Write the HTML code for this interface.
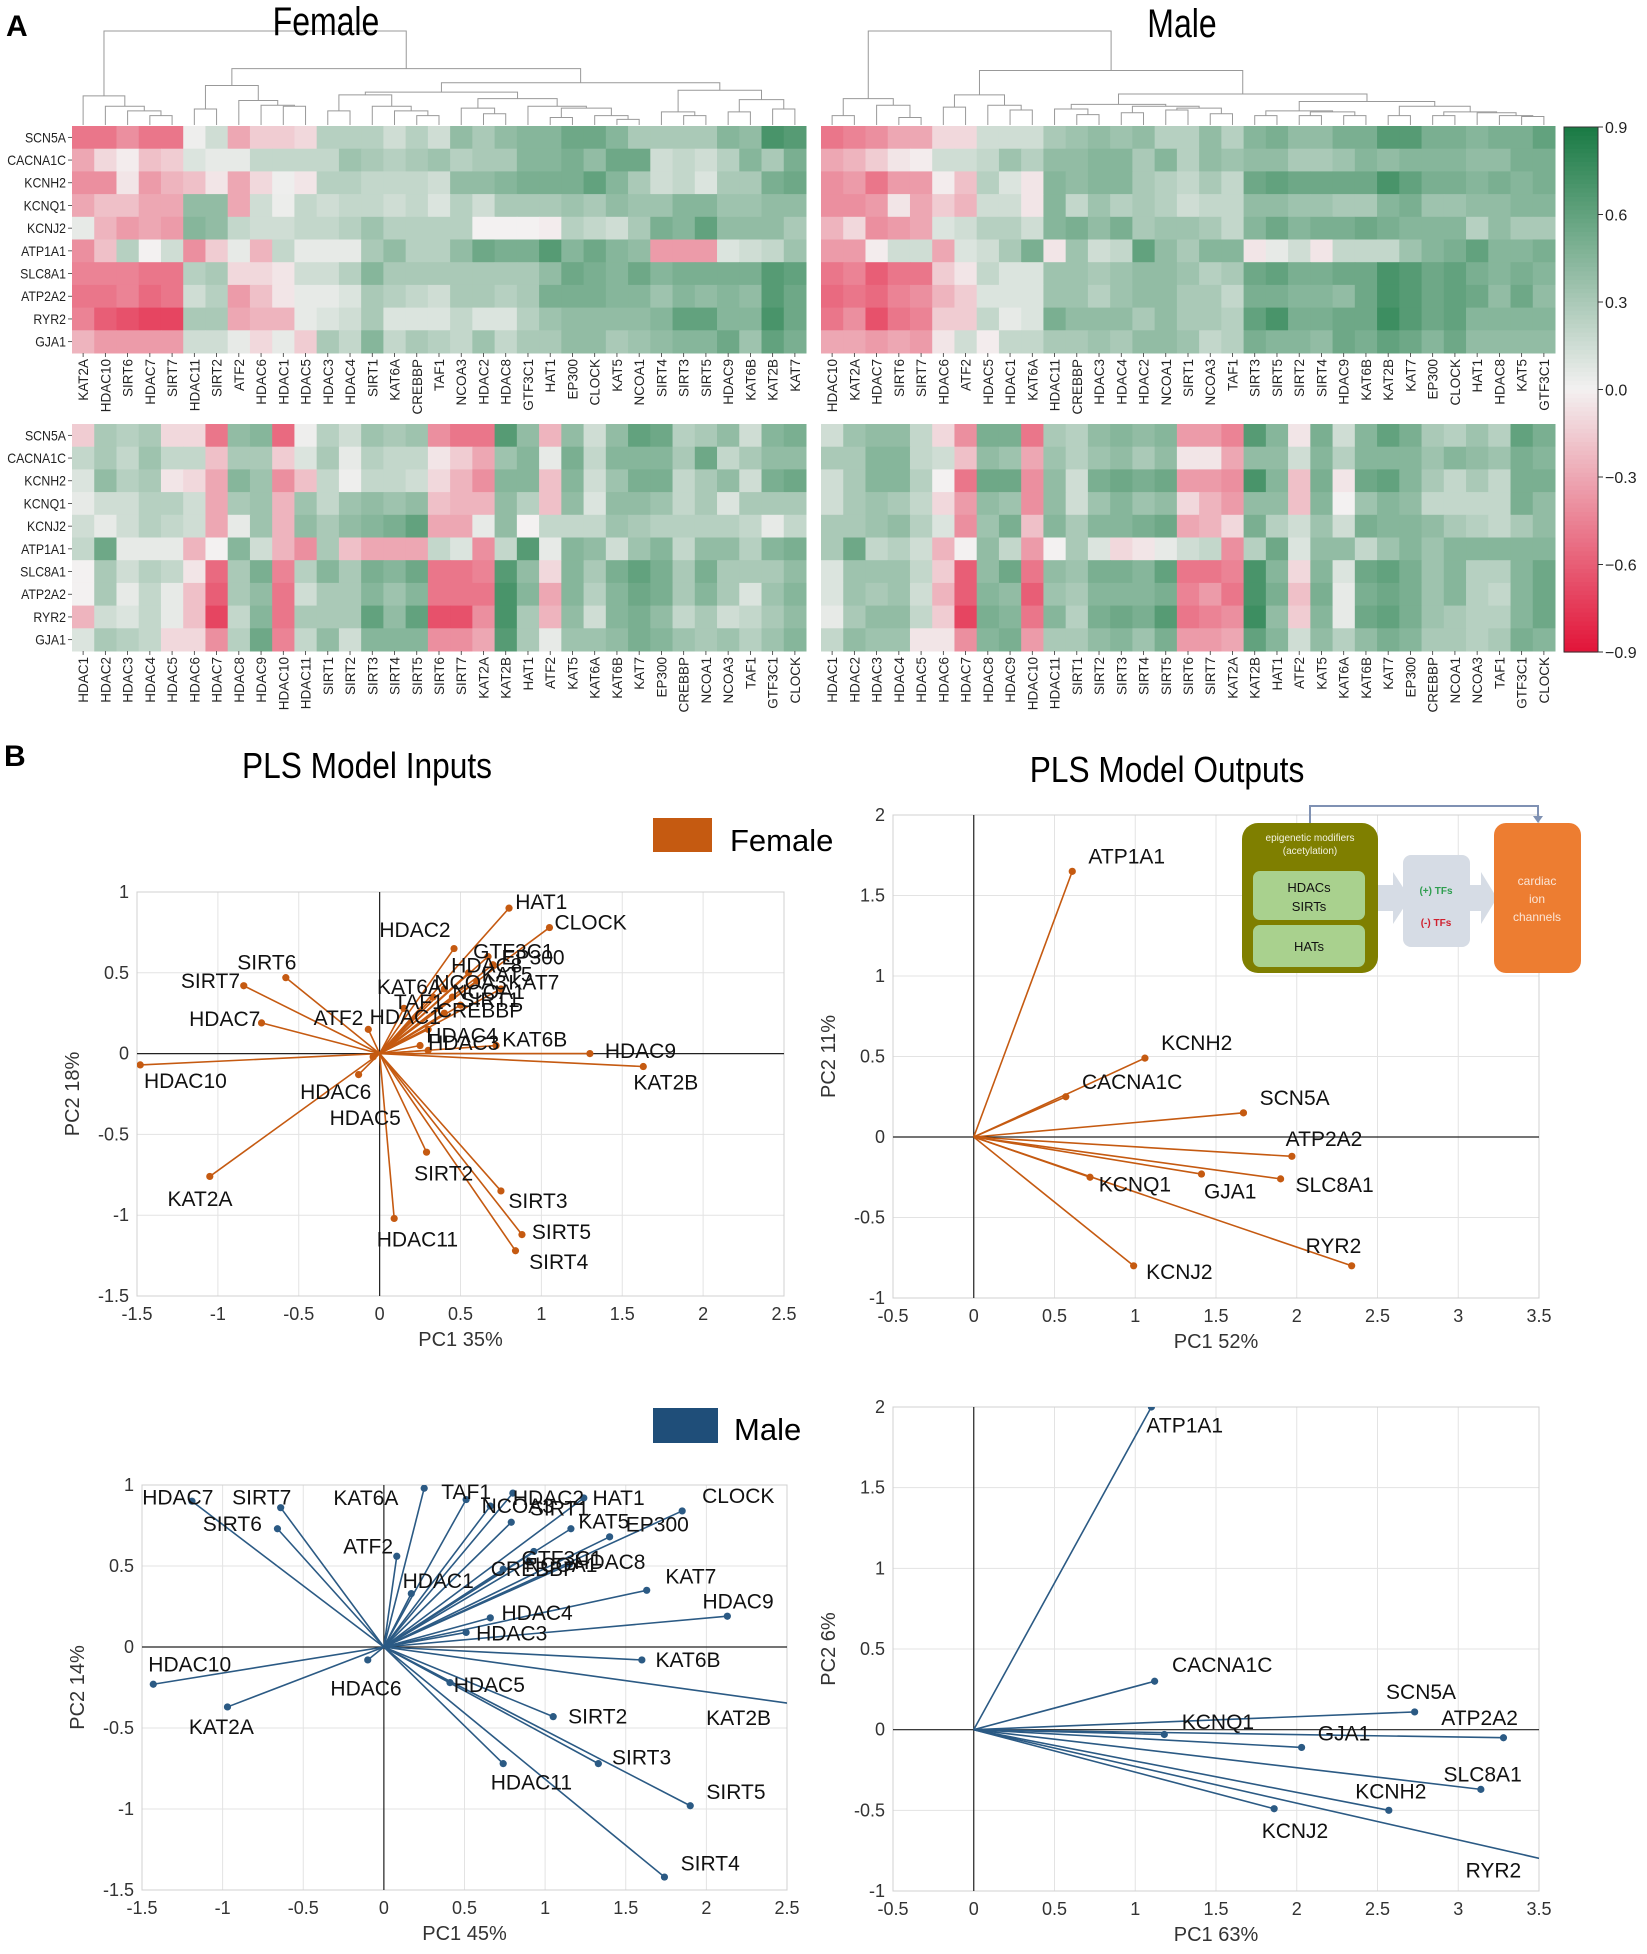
<!DOCTYPE html>
<html><head><meta charset="utf-8"><style>
html,body{margin:0;padding:0;background:#fff;}
svg{display:block;font-family:"Liberation Sans",sans-serif;}
</style></head><body>
<svg id="fig" width="1647" height="1954" viewBox="0 0 1647 1954" xmlns="http://www.w3.org/2000/svg"></svg>
<script>
// ---------- heatmap data ----------
const rowGenes = ["SCN5A","CACNA1C","KCNH2","KCNQ1","KCNJ2","ATP1A1","SLC8A1","ATP2A2","RYR2","GJA1"];
const femaleTopCols = ["KAT2A","HDAC10","SIRT6","HDAC7","SIRT7","HDAC11","SIRT2","ATF2","HDAC6","HDAC1","HDAC5","HDAC3","HDAC4","SIRT1","KAT6A","CREBBP","TAF1","NCOA3","HDAC2","HDAC8","GTF3C1","HAT1","EP300","CLOCK","KAT5","NCOA1","SIRT4","SIRT3","SIRT5","HDAC9","KAT6B","KAT2B","KAT7"];
const maleTopCols = ["HDAC10","KAT2A","HDAC7","SIRT6","SIRT7","HDAC6","ATF2","HDAC5","HDAC1","KAT6A","HDAC11","CREBBP","HDAC3","HDAC4","HDAC2","NCOA1","SIRT1","NCOA3","TAF1","SIRT3","SIRT5","SIRT2","SIRT4","HDAC9","KAT6B","KAT2B","KAT7","EP300","CLOCK","HAT1","HDAC8","KAT5","GTF3C1"];
const bottomCols = ["HDAC1","HDAC2","HDAC3","HDAC4","HDAC5","HDAC6","HDAC7","HDAC8","HDAC9","HDAC10","HDAC11","SIRT1","SIRT2","SIRT3","SIRT4","SIRT5","SIRT6","SIRT7","KAT2A","KAT2B","HAT1","ATF2","KAT5","KAT6A","KAT6B","KAT7","EP300","CREBBP","NCOA1","NCOA3","TAF1","GTF3C1","CLOCK"];
const femaleTop = [
[-0.5,-0.5,-0.4,-0.5,-0.5,0.02,0.15,-0.3,-0.15,-0.15,-0.1,0.25,0.25,0.25,0.15,0.25,0.15,0.4,0.3,0.4,0.45,0.45,0.55,0.55,0.45,0.3,0.3,0.3,0.3,0.45,0.4,0.7,0.65],
[-0.3,-0.1,-0.02,-0.2,-0.15,0.1,0.05,0.05,0.2,0.2,0.2,0.2,0.35,0.3,0.25,0.3,0.35,0.25,0.3,0.3,0.45,0.45,0.5,0.4,0.55,0.55,0.15,0.2,0.15,0.25,0.45,0.3,0.5],
[-0.4,-0.4,-0.05,-0.35,-0.25,-0.2,-0.05,-0.3,-0.1,0.02,-0.05,0.25,0.25,0.2,0.2,0.2,0.15,0.4,0.4,0.45,0.5,0.5,0.5,0.6,0.45,0.3,0.15,0.2,0.1,0.3,0.3,0.5,0.55],
[-0.3,-0.2,-0.2,-0.3,-0.3,0.4,0.4,-0.3,0.15,0.03,0.2,0.15,0.2,0.2,0.15,0.2,0.1,0.25,0.15,0.3,0.3,0.3,0.35,0.3,0.4,0.35,0.35,0.45,0.45,0.35,0.35,0.4,0.4],
[0.05,-0.25,-0.35,-0.3,-0.35,0.45,0.4,0.2,0.15,0.15,0.2,0.2,0.25,0.35,0.25,0.25,0.25,0.25,0.0,0.0,0.0,-0.02,0.25,0.2,0.15,0.3,0.5,0.45,0.6,0.4,0.4,0.4,0.3],
[-0.4,-0.2,0.25,0.0,0.15,-0.4,-0.15,0.05,-0.25,0.2,0.05,0.05,0.05,0.3,0.4,0.25,0.25,0.4,0.55,0.5,0.5,0.65,0.45,0.55,0.45,0.4,-0.35,-0.35,-0.35,0.1,0.15,0.2,0.35],
[-0.45,-0.45,-0.45,-0.5,-0.5,0.25,0.3,-0.1,-0.1,-0.05,0.15,0.15,0.25,0.45,0.3,0.3,0.3,0.3,0.3,0.3,0.3,0.4,0.55,0.5,0.45,0.55,0.45,0.5,0.5,0.5,0.5,0.65,0.6],
[-0.5,-0.5,-0.45,-0.55,-0.5,0.15,0.25,-0.35,-0.2,-0.05,0.05,0.05,0.1,0.3,0.25,0.2,0.15,0.3,0.3,0.25,0.3,0.5,0.5,0.5,0.45,0.45,0.35,0.45,0.4,0.45,0.4,0.65,0.55],
[-0.45,-0.6,-0.65,-0.7,-0.7,0.3,0.3,-0.3,-0.25,-0.25,0.05,0.1,0.15,0.3,0.1,0.1,0.1,0.2,0.1,0.1,0.25,0.35,0.4,0.4,0.4,0.4,0.45,0.6,0.6,0.45,0.45,0.7,0.55],
[-0.25,-0.35,-0.35,-0.35,-0.35,0.15,0.15,0.05,-0.1,0.05,-0.15,0.3,0.2,0.45,0.2,0.3,0.25,0.2,0.35,0.2,0.3,0.3,0.4,0.4,0.3,0.35,0.4,0.45,0.45,0.55,0.35,0.6,0.5]];
const maleTop = [
[-0.5,-0.45,-0.4,-0.3,-0.3,-0.1,-0.1,0.15,0.15,0.15,0.3,0.35,0.4,0.35,0.4,0.25,0.25,0.4,0.25,0.45,0.5,0.4,0.4,0.5,0.5,0.65,0.65,0.5,0.5,0.45,0.5,0.5,0.6],
[-0.3,-0.25,-0.15,-0.05,-0.02,0.15,0.15,0.2,0.35,0.25,0.4,0.4,0.45,0.45,0.3,0.45,0.25,0.4,0.35,0.4,0.4,0.3,0.3,0.35,0.45,0.4,0.45,0.45,0.45,0.4,0.4,0.5,0.5],
[-0.4,-0.35,-0.5,-0.35,-0.35,-0.02,-0.2,0.25,0.1,-0.05,0.45,0.4,0.45,0.45,0.3,0.25,0.2,0.3,0.2,0.55,0.6,0.55,0.55,0.55,0.55,0.7,0.6,0.5,0.5,0.45,0.5,0.45,0.5],
[-0.4,-0.4,-0.35,-0.05,-0.3,-0.15,-0.25,0.15,0.15,-0.05,0.45,0.2,0.35,0.25,0.3,0.25,0.15,0.2,0.2,0.4,0.4,0.35,0.35,0.3,0.3,0.45,0.5,0.35,0.35,0.4,0.4,0.45,0.45],
[-0.25,-0.1,-0.4,-0.35,-0.3,0.1,0.15,0.25,0.25,0.15,0.45,0.5,0.4,0.5,0.3,0.35,0.35,0.3,0.2,0.45,0.55,0.45,0.5,0.5,0.55,0.5,0.45,0.45,0.45,0.25,0.4,0.3,0.3],
[-0.35,-0.35,-0.02,0.15,0.15,-0.3,0.1,0.15,0.3,0.5,-0.05,0.35,0.15,0.2,0.6,0.4,0.3,0.45,0.45,-0.05,0.05,0.15,-0.05,0.2,0.2,0.2,0.35,0.45,0.5,0.6,0.45,0.45,0.5],
[-0.5,-0.45,-0.6,-0.5,-0.5,-0.15,-0.05,0.2,0.1,0.1,0.35,0.35,0.3,0.35,0.4,0.4,0.35,0.25,0.3,0.55,0.6,0.5,0.5,0.55,0.55,0.7,0.65,0.55,0.6,0.5,0.45,0.5,0.45],
[-0.55,-0.5,-0.55,-0.45,-0.4,-0.25,-0.15,0.1,0.1,0.1,0.35,0.35,0.25,0.35,0.4,0.4,0.3,0.3,0.2,0.5,0.5,0.45,0.45,0.4,0.55,0.7,0.65,0.55,0.6,0.55,0.4,0.55,0.4],
[-0.5,-0.4,-0.65,-0.5,-0.45,-0.15,-0.15,0.2,0.05,0.1,0.5,0.4,0.4,0.4,0.3,0.4,0.3,0.3,0.25,0.6,0.7,0.5,0.5,0.55,0.55,0.75,0.65,0.55,0.6,0.45,0.45,0.45,0.45],
[-0.3,-0.3,-0.35,-0.3,-0.35,-0.05,0.15,-0.02,0.2,0.2,0.3,0.3,0.35,0.3,0.4,0.4,0.35,0.2,0.25,0.5,0.45,0.45,0.4,0.55,0.5,0.6,0.55,0.45,0.55,0.4,0.4,0.4,0.4]];
const femaleBottom = [
[-0.15,0.3,0.25,0.3,-0.1,-0.1,-0.5,0.4,0.45,-0.55,0.02,0.25,0.15,0.35,0.3,0.35,-0.4,-0.5,-0.5,0.65,0.4,-0.25,0.4,0.15,0.4,0.6,0.55,0.25,0.3,0.4,0.15,0.45,0.5],
[0.2,0.3,0.2,0.35,0.2,0.2,-0.2,0.3,0.3,-0.15,0.1,0.3,0.05,0.25,0.2,0.2,-0.05,-0.15,-0.3,0.35,0.45,0.05,0.5,0.2,0.45,0.45,0.45,0.3,0.55,0.2,0.3,0.4,0.4],
[0.1,0.4,0.25,0.3,-0.05,-0.1,-0.3,0.45,0.35,-0.4,-0.2,0.2,0.02,0.2,0.2,0.15,-0.1,-0.25,-0.4,0.45,0.45,-0.2,0.45,0.15,0.35,0.5,0.5,0.2,0.3,0.4,0.15,0.5,0.55],
[0.05,0.15,0.15,0.25,0.25,0.15,-0.3,0.3,0.35,-0.25,0.35,0.2,0.35,0.4,0.35,0.4,-0.2,-0.25,-0.25,0.4,0.25,-0.2,0.4,0.1,0.4,0.4,0.35,0.2,0.3,0.1,0.3,0.3,0.3],
[0.15,0.05,0.15,0.25,0.2,0.15,-0.3,0.05,0.35,-0.25,0.4,0.3,0.4,0.45,0.5,0.6,-0.3,-0.3,0.05,0.4,0.0,0.2,0.2,0.2,0.35,0.3,0.25,0.25,0.25,0.25,0.2,0.05,0.2],
[0.2,0.55,0.05,0.05,0.05,-0.25,0.0,0.45,0.15,-0.25,-0.4,0.3,-0.2,-0.3,-0.3,-0.3,0.2,0.1,-0.4,0.2,0.65,0.05,0.45,0.4,0.15,0.35,0.45,0.2,0.4,0.4,0.25,0.45,0.5],
[0.0,0.3,0.15,0.25,0.2,-0.05,-0.55,0.3,0.5,-0.45,0.25,0.45,0.3,0.5,0.45,0.55,-0.5,-0.5,-0.45,0.65,0.4,-0.1,0.45,0.3,0.5,0.6,0.5,0.3,0.5,0.3,0.3,0.3,0.4],
[0.0,0.3,0.05,0.2,0.05,-0.2,-0.6,0.3,0.4,-0.5,0.15,0.3,0.3,0.45,0.35,0.45,-0.5,-0.5,-0.5,0.7,0.45,-0.3,0.45,0.25,0.45,0.55,0.5,0.3,0.45,0.3,0.1,0.35,0.45],
[-0.25,0.15,0.1,0.2,0.05,-0.2,-0.7,0.2,0.45,-0.5,0.3,0.3,0.3,0.6,0.4,0.6,-0.65,-0.65,-0.4,0.7,0.3,-0.25,0.4,0.15,0.45,0.5,0.4,0.2,0.3,0.15,0.2,0.3,0.4],
[0.1,0.3,0.25,0.2,-0.1,-0.1,-0.4,0.25,0.55,-0.45,0.2,0.4,0.15,0.45,0.45,0.45,-0.4,-0.4,-0.3,0.65,0.3,0.05,0.35,0.35,0.4,0.5,0.45,0.35,0.3,0.35,0.25,0.35,0.45]];
const maleBottom = [
[0.15,0.35,0.4,0.4,0.2,-0.1,-0.4,0.5,0.5,-0.5,0.3,0.25,0.4,0.45,0.4,0.45,-0.35,-0.35,-0.45,0.65,0.45,-0.05,0.5,0.15,0.45,0.6,0.5,0.3,0.25,0.35,0.25,0.6,0.5],
[0.3,0.3,0.45,0.45,0.2,0.15,-0.2,0.4,0.35,-0.3,0.35,0.25,0.35,0.4,0.3,0.4,-0.05,-0.05,-0.3,0.4,0.4,0.15,0.45,0.25,0.45,0.45,0.45,0.35,0.45,0.4,0.35,0.5,0.45],
[0.15,0.3,0.45,0.45,0.25,0.0,-0.5,0.55,0.55,-0.4,0.4,0.15,0.5,0.55,0.5,0.55,-0.35,-0.35,-0.4,0.7,0.45,-0.2,0.5,-0.05,0.55,0.6,0.45,0.3,0.2,0.3,0.2,0.5,0.5],
[0.15,0.3,0.35,0.3,0.2,-0.1,-0.35,0.4,0.35,-0.4,0.4,0.15,0.35,0.45,0.35,0.4,-0.1,-0.25,-0.35,0.4,0.4,-0.2,0.45,0.0,0.35,0.45,0.4,0.2,0.2,0.2,0.2,0.5,0.4],
[0.3,0.3,0.35,0.4,0.25,0.1,-0.4,0.35,0.5,-0.2,0.45,0.3,0.45,0.45,0.5,0.55,-0.3,-0.25,-0.1,0.5,0.25,0.15,0.35,0.15,0.5,0.45,0.45,0.4,0.3,0.25,0.2,0.3,0.4],
[0.3,0.55,0.2,0.25,0.15,-0.25,0.0,0.4,0.2,-0.35,0.0,0.3,0.1,-0.1,-0.05,0.05,0.15,0.2,-0.4,0.25,0.55,0.1,0.4,0.4,0.2,0.35,0.45,0.35,0.45,0.45,0.45,0.45,0.45],
[0.1,0.35,0.35,0.35,0.2,-0.15,-0.6,0.4,0.55,-0.5,0.4,0.35,0.5,0.5,0.45,0.6,-0.5,-0.5,-0.45,0.7,0.45,-0.1,0.45,0.1,0.55,0.6,0.5,0.35,0.45,0.25,0.25,0.45,0.55],
[0.1,0.35,0.3,0.35,0.15,-0.25,-0.6,0.45,0.4,-0.6,0.35,0.3,0.45,0.45,0.45,0.5,-0.45,-0.35,-0.5,0.7,0.5,-0.2,0.5,0.05,0.5,0.55,0.5,0.35,0.45,0.25,0.2,0.45,0.55],
[0.05,0.3,0.4,0.4,0.2,-0.15,-0.7,0.5,0.45,-0.5,0.45,0.25,0.5,0.55,0.5,0.65,-0.5,-0.45,-0.4,0.75,0.4,-0.15,0.45,0.05,0.55,0.6,0.5,0.35,0.3,0.25,0.25,0.45,0.55],
[0.2,0.4,0.35,0.35,-0.05,-0.05,-0.4,0.45,0.5,-0.35,0.3,0.3,0.4,0.45,0.35,0.5,-0.35,-0.35,-0.3,0.6,0.45,0.15,0.4,0.25,0.4,0.5,0.45,0.3,0.3,0.25,0.3,0.5,0.45]];
const colorbarTicks = [0.9,0.6,0.3,0.0,-0.3,-0.6,-0.9];

// dendrogram structures [height, left, right]
const femaleTree = [1,[0.31,0,[0.2,1,[0.15,2,[0.1,3,4]]]],[0.6,[0.42,[0.17,5,6],[0.26,7,[0.21,8,[0.2,9,10]]]],[0.45,[0.35,[0.32,[0.15,11,12],[0.2,13,[0.15,14,[0.1,15,16]]]],[0.28,[0.18,17,[0.12,18,19]],[0.2,20,[0.18,[0.08,21,22],[0.1,23,[0.06,24,25]]]]]],[0.37,[0.14,26,[0.1,27,28]],[0.27,[0.14,29,30],[0.17,31,32]]]]]];
const maleTree = [1,[0.28,[0.1,0,1],[0.21,2,[0.08,3,4]]],[0.58,[0.32,[0.19,5,6],[0.21,7,[0.16,8,9]]],[0.33,[0.22,[0.17,10,[0.11,11,12]],[0.2,[0.13,13,14],[0.18,[0.16,15,16],[0.12,17,18]]]],[0.25,[0.15,[0.1,19,20],[0.14,[0.1,21,22],[0.1,23,24]]],[0.2,[0.1,25,26],[0.14,[0.1,27,28],[0.13,29,[0.1,30,[0.09,31,32]]]]]]]]];

// ---------- PLS biplot data ----------
const femInNames = ["HAT1","CLOCK","HDAC2","GTF3C1","HDAC8","EP300","KAT5","KAT7","NCOA1","KAT6A","SIRT1","CREBBP","NCOA3","TAF1","HDAC1","HDAC4","HDAC3","KAT6B","HDAC9","KAT2B","HDAC10","HDAC7","SIRT7","SIRT6","ATF2","HDAC6","HDAC5","KAT2A","SIRT2","HDAC11","SIRT3","SIRT5","SIRT4"];
const femInX = [0.8,1.05,0.46,0.67,0.55,0.7,0.6,0.75,0.45,0.33,0.5,0.4,0.4,0.15,0.3,0.25,0.3,0.72,1.3,1.63,-1.48,-0.73,-0.84,-0.58,-0.07,-0.13,-0.04,-1.05,0.29,0.09,0.75,0.88,0.84];
const femInY = [0.9,0.78,0.65,0.6,0.5,0.55,0.45,0.4,0.35,0.35,0.3,0.25,0.4,0.28,0.15,0.05,0.02,0.05,0.0,-0.08,-0.07,0.19,0.42,0.47,0.15,-0.13,-0.02,-0.76,-0.61,-1.02,-0.85,-1.12,-1.22];
const femOutNames = ["ATP1A1","KCNH2","CACNA1C","SCN5A","ATP2A2","SLC8A1","GJA1","KCNQ1","RYR2","KCNJ2"];
const femOutX = [0.61,1.06,0.57,1.67,1.97,1.9,1.41,0.72,2.34,0.99];
const femOutY = [1.65,0.49,0.25,0.15,-0.12,-0.26,-0.23,-0.25,-0.8,-0.8];
const maleInNames = ["HDAC7","SIRT7","SIRT6","KAT6A","TAF1","HDAC2","HAT1","CLOCK","SIRT1","NCOA3","EP300","KAT5","NCOA1","GTF3C1","HDAC8","CREBBP","KAT7","HDAC9","ATF2","HDAC1","HDAC4","HDAC3","KAT6B","KAT2B","HDAC10","KAT2A","HDAC6","HDAC5","SIRT2","SIRT3","HDAC11","SIRT5","SIRT4"];
const maleInX = [-1.19,-0.64,-0.66,0.25,0.51,0.8,1.24,1.85,0.79,0.66,1.4,1.16,0.93,0.9,1.15,0.74,1.63,2.13,0.08,0.17,0.66,0.51,1.6,2.6,-1.43,-0.97,-0.1,0.41,1.05,1.33,0.74,1.9,1.74];
const maleInY = [0.9,0.86,0.73,0.98,0.91,0.95,0.92,0.84,0.77,0.87,0.68,0.73,0.59,0.53,0.51,0.48,0.35,0.19,0.56,0.33,0.18,0.09,-0.08,-0.36,-0.23,-0.37,-0.08,-0.22,-0.43,-0.72,-0.72,-0.98,-1.42];
const maleOutNames = ["ATP1A1","CACNA1C","SCN5A","ATP2A2","KCNQ1","GJA1","SLC8A1","KCNH2","KCNJ2","RYR2"];
const maleOutX = [1.1,1.12,2.73,3.28,1.18,2.03,3.14,2.57,1.86,3.6];
const maleOutY = [2.0,0.3,0.11,-0.05,-0.03,-0.11,-0.37,-0.5,-0.49,-0.82];
const inXTicks = ["-1.5","-1","-0.5","0","0.5","1","1.5","2","2.5"];
const inYTicks = ["-1.5","-1","-0.5","0","0.5","1"];
const outXTicks = ["-0.5","0","0.5","1","1.5","2","2.5","3","3.5"];
const outYTicks = ["-1","-0.5","0","0.5","1","1.5","2"];

// ---------- helpers ----------
const NS="http://www.w3.org/2000/svg";
const svg=document.getElementById('fig');
function mk(tag,attrs,parent){const e=document.createElementNS(NS,tag);for(const k in attrs)e.setAttribute(k,attrs[k]);(parent||svg).appendChild(e);return e;}
function txt(s,attrs,parent){const e=mk('text',attrs,parent);e.textContent=s;return e;}
function cmap(v){
  const t=Math.max(-1,Math.min(1,v/0.9));
  const w=[243,241,241],r=[226,20,56],g=[25,122,68];
  const c=t<0?r:g,a=Math.abs(t);
  return 'rgb('+w.map((x,i)=>Math.round(x+(c[i]-x)*a)).join(',')+')';
}
const K=1.244;

// ---------- heatmaps ----------
const HW=734,HH=227;
function drawHeat(data,cols,x0,y0,rowLabels,nm){
  const g=mk('g',{});
  
  
  const cw=HW/cols.length,ch=HH/data.length;
  data.forEach((row,i)=>row.forEach((v,j)=>{
    const r=mk('rect',{x:x0+j*cw,y:y0+i*ch,width:cw+0.5,height:ch+0.5,fill:cmap(v)},g);
    
    
  }));
  cols.forEach((c,j)=>{
    const cx=x0+(j+0.5)*cw,ty=y0+HH+6;
    mk('line',{x1:cx,y1:y0+HH,x2:cx,y2:y0+HH+4,stroke:'#333','stroke-width':0.8},g);
    const t=txt(c,{x:cx+5,y:ty,'font-size':13.5,'text-anchor':'end',fill:'#222',transform:'rotate(-90 '+(cx+5)+' '+ty+')'},g);
    
    
  });
  if(rowLabels){
    rowGenes.forEach((r,i)=>{
      const cy=y0+(i+0.5)*ch;
      mk('line',{x1:x0-4,y1:cy,x2:x0,y2:cy,stroke:'#333','stroke-width':0.8},g);
      const t=txt(r,{x:x0-6,y:cy+5,'font-size':14,'text-anchor':'end',fill:'#222',transform:'translate('+(x0-6)+' 0) scale(0.88 1) translate('+(-(x0-6))+' 0)'},g);
      
      
    });
  }
}
drawHeat(femaleTop,femaleTopCols,72,126,true,'female-top-heatmap');
drawHeat(maleTop,maleTopCols,821,126,false,'male-top-heatmap');
drawHeat(femaleBottom,bottomCols,72,424,true,'female-bottom-heatmap');
drawHeat(maleBottom,bottomCols,821,424,false,'male-bottom-heatmap');

// dendrograms
function drawTree(tree,x0,nm){
  const g=mk('g',{fill:'none',stroke:'#999','stroke-width':1});
  
  
  const cw=HW/33,yb=125,hs=94;
  function rec(n){
    if(typeof n==='number')return {x:x0+(n+0.5)*cw,y:yb};
    const a=rec(n[1]),b=rec(n[2]),y=yb-n[0]*hs;
    mk('path',{d:'M'+a.x+' '+a.y+'V'+y+'H'+b.x+'V'+b.y},g);
    return {x:(a.x+b.x)/2,y:y};
  }
  rec(tree);
}
drawTree(femaleTree,72,'female-dendrogram');
drawTree(maleTree,821,'male-dendrogram');

// colorbar
(function(){
  const g=mk('g',{});
  
  
  const x=1564,w=34,y0=127,y1=652,n=120;
  for(let i=0;i<n;i++){
    const v=0.9-1.8*(i+0.5)/n;
    mk('rect',{x:x,y:y0+(y1-y0)*i/n,width:w,height:(y1-y0)/n+0.6,fill:cmap(v)},g);
  }
  mk('rect',{x:x,y:y0,width:w,height:y1-y0,fill:'none',stroke:'#333','stroke-width':1},g);
  colorbarTicks.forEach(v=>{
    const y=y0+(0.9-v)/1.8*(y1-y0);
    mk('line',{x1:x+w,y1:y,x2:x+w+5,y2:y,stroke:'#333'},g);
    const t=txt(v.toFixed(1).replace('-','\u2212'),{x:x+w+7,y:y+6,'font-size':16,fill:'#222'},g);
    
    
  });
})();

// titles
let e;
e=txt('A',{x:6,y:36,'font-size':30,'font-weight':'bold'});

e=txt('Female',{x:326,y:35,'font-size':40,'text-anchor':'middle',transform:'translate(326 0) scale(0.8 1) translate(-326 0)'});

e=txt('Male',{x:1182,y:37,'font-size':40,'text-anchor':'middle',transform:'translate(1182 0) scale(0.8 1) translate(-1182 0)'});

e=txt('B',{x:4,y:766,'font-size':30,'font-weight':'bold'});

e=txt('PLS Model Inputs',{x:367,y:778,'font-size':36,'text-anchor':'middle',transform:'translate(367 0) scale(0.88 1) translate(-367 0)'});

e=txt('PLS Model Outputs',{x:1167,y:782,'font-size':36,'text-anchor':'middle',transform:'translate(1167 0) scale(0.88 1) translate(-1167 0)'});

e=mk('rect',{x:653,y:818,width:59,height:34,fill:'#c55a11'});

e=txt('Female',{x:730,y:851,'font-size':31});

e=mk('rect',{x:653,y:1408,width:65,height:35,fill:'#1f4e79'});

e=txt('Male',{x:734,y:1440,'font-size':31});


// biplots
function biplot(c){
  const g=mk('g',{});
  
  
  const sx=v=>c.px0+(v-c.xmin)/(c.xmax-c.xmin)*(c.px1-c.px0);
  const sy=v=>c.py0+(c.ymax-v)/(c.ymax-c.ymin)*(c.py1-c.py0);
  const cid='clip-'+c.name;
  const cp=mk('clipPath',{id:cid},g);
  mk('rect',{x:c.px0,y:c.py0,width:c.px1-c.px0,height:c.py1-c.py0},cp);
  c.xt.forEach(s=>{
    const x=sx(parseFloat(s));
    mk('line',{x1:x,y1:c.py0,x2:x,y2:c.py1,stroke:'#e3e3e3'},g);
    const t=txt(s,{x:x,y:c.py1+24,'font-size':18,'text-anchor':'middle',fill:'#333'},g);
    
  });
  c.yt.forEach(s=>{
    const y=sy(parseFloat(s));
    mk('line',{x1:c.px0,y1:y,x2:c.px1,y2:y,stroke:'#e3e3e3'},g);
    const t=txt(s,{x:c.px0-8,y:y+6,'font-size':18,'text-anchor':'end',fill:'#333'},g);
    
  });
  mk('rect',{x:c.px0,y:c.py0,width:c.px1-c.px0,height:c.py1-c.py0,fill:'none',stroke:'#d0d0d0'},g);
  mk('line',{x1:sx(0),y1:c.py0,x2:sx(0),y2:c.py1,stroke:'#222','stroke-width':1.2},g);
  mk('line',{x1:c.px0,y1:sy(0),x2:c.px1,y2:sy(0),stroke:'#222','stroke-width':1.2},g);
  const lg=mk('g',{'clip-path':'url(#'+cid+')'},g);
  c.names.forEach((n,i)=>{
    const x=sx(c.xs[i]),y=sy(c.ys[i]);
    const l=mk('line',{x1:sx(0),y1:sy(0),x2:x,y2:y,stroke:c.color,'stroke-width':1.6},lg);
    
    const d=mk('circle',{cx:x,cy:y,r:3.6,fill:c.color},lg);
    
    const o=(c.off[n]||[7,-8]);
    const t=txt(n,{x:x+o[0]*K,y:y+o[1]*K+7,'font-size':21,'text-anchor':o[2]?'end':'start',fill:'#111'},g);
    
  });
  let t=txt(c.xl,{x:(c.px0+c.px1)/2,y:c.py1+50,'font-size':20,'text-anchor':'middle',fill:'#333'},g);
  
  const ax=c.px0-58,ay=(c.py0+c.py1)/2;
  t=txt(c.yl,{x:ax,y:ay,'font-size':20,'text-anchor':'middle',fill:'#333',transform:'rotate(-90 '+ax+' '+ay+')'},g);
  
}
biplot({name:'female-inputs-biplot',px0:137,px1:784,py0:892,py1:1296,xmin:-1.5,xmax:2.5,ymin:-1.5,ymax:1,xt:inXTicks,yt:inYTicks,
  names:femInNames,xs:femInX,ys:femInY,color:'#c55a11',xl:'PC1 35%',yl:'PC2 18%',
  off:{HAT1:[5,-5],CLOCK:[4,-4],HDAC2:[-60,-15],SIRT7:[-3,-4,1],SIRT6:[-39,-12],HDAC7:[-1,-3,1],HDAC10:[3,13],KAT2A:[-34,18],HDAC6:[-47,14],HDAC5:[-35,49],SIRT2:[-10,17],HDAC11:[-14,17],SIRT3:[6,8],SIRT5:[8,-2],SIRT4:[11,9],HDAC9:[12,-2],KAT2B:[-8,13],KAT6B:[5,-5],ATF2:[-44,-9],TAF1:[-8,-5],KAT6A:[-45,-8],HDAC4:[5,-8],HDAC3:[0,-6],HDAC1:[-47,-10],GTF3C1:[-12,-4],HDAC8:[-14,-6],EP300:[7,-6],KAT5:[4,-5],KAT7:[6,-5],NCOA3:[-8,-5],NCOA1:[0,-4],SIRT1:[0,-4],CREBBP:[-6,-2]}});
biplot({name:'female-outputs-biplot',px0:893,px1:1539,py0:815,py1:1298,xmin:-0.5,xmax:3.5,ymin:-1,ymax:2,xt:outXTicks,yt:outYTicks,
  names:femOutNames,xs:femOutX,ys:femOutY,color:'#c55a11',xl:'PC1 52%',yl:'PC2 11%',
  off:{ATP1A1:[13,-12],KCNH2:[13,-12],CACNA1C:[13,-12],SCN5A:[13,-12],ATP2A2:[-5,-14],SLC8A1:[12,5],GJA1:[2,14],KCNQ1:[7,6],RYR2:[-37,-16],KCNJ2:[10,5]}});
biplot({name:'male-inputs-biplot',px0:142,px1:787,py0:1485,py1:1890,xmin:-1.5,xmax:2.5,ymin:-1.5,ymax:1,xt:inXTicks,yt:inYTicks,
  names:maleInNames,xs:maleInX,ys:maleInY,color:'#2b5a84',xl:'PC1 45%',yl:'PC2 14%',
  off:{HDAC7:[-40,-3],SIRT7:[-39,-8],SIRT6:[-60,-4],KAT6A:[-73,8],TAF1:[-20,-6],HDAC2:[0,4],HAT1:[7,0],CLOCK:[16,-12],SIRT1:[15,-11],NCOA3:[-7,0],EP300:[13,-10],KAT7:[15,-11],HDAC9:[-20,-12],ATF2:[-43,-8],HDAC1:[-7,-10],HDAC4:[9,-4],HDAC3:[8,1],KAT6B:[11,0],KAT2B:[-78,10],HDAC10:[-4,-16],KAT2A:[-31,16],HDAC6:[-30,23],HDAC5:[3,2],SIRT2:[12,0],SIRT3:[11,-5],HDAC11:[-10,15],SIRT5:[13,-11],SIRT4:[13,-11],NCOA1:[-7,11],KAT5:[6,-6],GTF3C1:[-6,-2],HDAC8:[4,-2],CREBBP:[-10,0]}});
biplot({name:'male-outputs-biplot',px0:893,px1:1539,py0:1407,py1:1891,xmin:-0.5,xmax:3.5,ymin:-1,ymax:2,xt:outXTicks,yt:outYTicks,
  names:maleOutNames,xs:maleOutX,ys:maleOutY,color:'#2b5a84',xl:'PC1 63%',yl:'PC2 6%',
  off:{ATP1A1:[-4,15],CACNA1C:[14,-13],SCN5A:[-23,-16],ATP2A2:[-50,-16],KCNQ1:[14,-10],GJA1:[13,-11],SLC8A1:[-30,-12],KCNH2:[-27,-15],KCNJ2:[-10,18],RYR2:[-72,7]}});

// inset diagram
(function(){
  const g=mk('g',{});
  
  
  mk('path',{d:'M1310 823V806H1538V818',fill:'none',stroke:'#7f91b3','stroke-width':2},g);
  mk('path',{d:'M1533 816L1538 823L1543 816Z',fill:'#7f91b3'},g);
  mk('path',{d:'M1378 885H1393V872L1410 898L1393 924V911H1378Z',fill:'#d6dce5'},g);
  mk('path',{d:'M1470 885H1481V872L1497 898L1481 924V911H1470Z',fill:'#d6dce5'},g);
  mk('rect',{x:1242,y:823,width:136,height:150,rx:16,fill:'#7f7f00'},g);
  mk('rect',{x:1253,y:871,width:112,height:49,rx:7,fill:'#a9d18e'},g);
  mk('rect',{x:1253,y:925,width:112,height:42,rx:7,fill:'#a9d18e'},g);
  mk('rect',{x:1403,y:855,width:67,height:92,rx:8,fill:'#d6dce5'},g);
  mk('rect',{x:1494,y:823,width:87,height:150,rx:12,fill:'#ed7d31'},g);
  const T=(s,x,y,sz,col,w,nm)=>{const t=txt(s,{x:x,y:y,'font-size':sz,'text-anchor':'middle',fill:col,'font-weight':w||'normal'},g);};
  T('epigenetic modifiers',1310,841,10,'#f2f2e0','normal','diagram-text');
  T('(acetylation)',1310,854,10,'#f2f2e0','normal','diagram-text');
  T('HDACs',1309,892,13,'#111','normal','diagram-text');
  T('SIRTs',1309,911,13,'#111','normal','diagram-text');
  T('HATs',1309,951,13,'#111','normal','diagram-text');
  T('(+) TFs',1436,894,10,'#2e9e4f','bold','diagram-text');
  T('(-) TFs',1436,926,10,'#d0202e','bold','diagram-text');
  T('cardiac',1537,885,12,'#fbe5d6','normal','diagram-text');
  T('ion',1537,903,12,'#fbe5d6','normal','diagram-text');
  T('channels',1537,921,12,'#fbe5d6','normal','diagram-text');
})();
</script>
</body></html>
